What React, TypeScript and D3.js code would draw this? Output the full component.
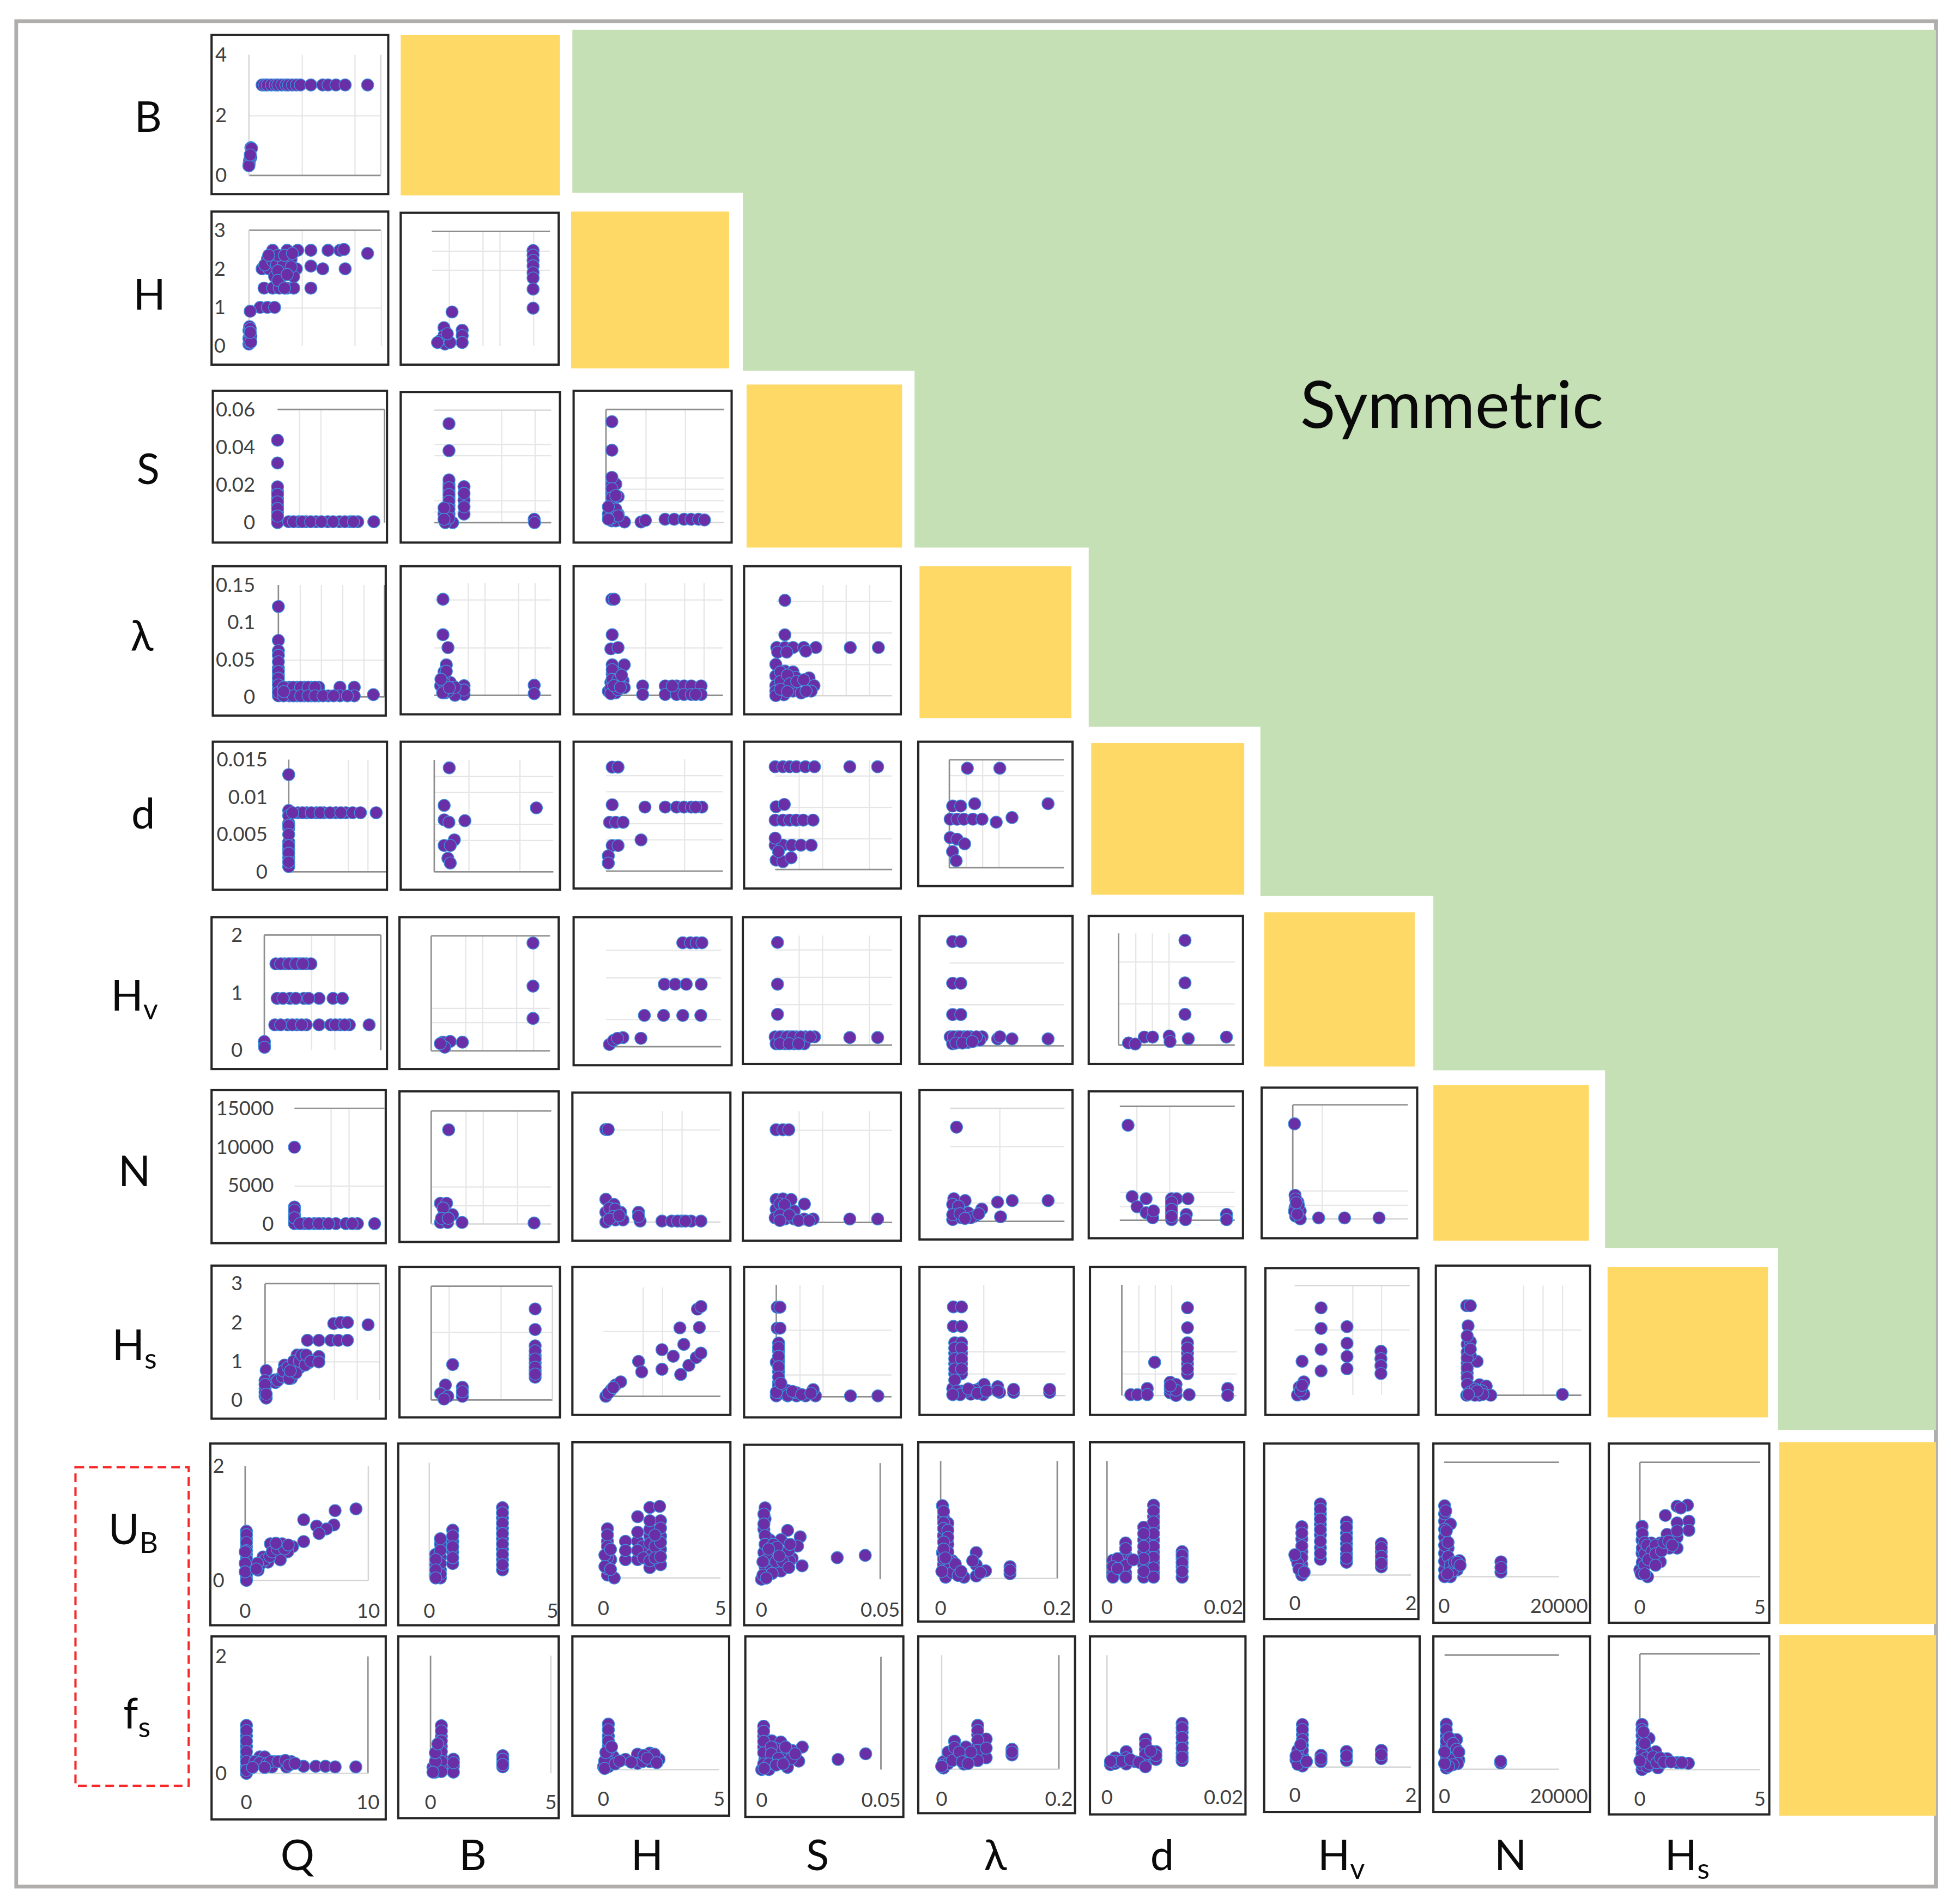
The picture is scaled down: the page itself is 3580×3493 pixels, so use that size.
import { useEffect, useRef } from 'react';
import * as d3 from 'd3';

type Pt = [number, number];

// axis maxima
const rowMaxFirst: Record<string, number> = { B: 4, H: 3, S: 0.06, L: 0.15, d: 0.015, Hv: 2, N: 15000, Hs: 3, UB: 2, fs: 2 };
const rowMaxOther: Record<string, number> = { H: 3, S: 0.05, L: 0.14, d: 0.014, Hv: 1.6, N: 12000, Hs: 2.5, UB: 2, fs: 2 };
const colMaxUpper: Record<string, number> = { Q: 10, B: 3.5, H: 3, S: 0.05, L: 0.14, d: 0.014, Hv: 2, N: 12000 };
const colMaxLower: Record<string, number> = { Q: 10, B: 5, H: 5, S: 0.05, L: 0.2, d: 0.02, Hv: 2, N: 20000, Hs: 5 };

const yTicks: Record<string, number[]> = {
  B: [0, 2, 4], H: [0, 1, 2, 3], S: [0, 0.02, 0.04, 0.06], L: [0, 0.05, 0.1, 0.15], d: [0, 0.005, 0.01, 0.015],
  Hv: [0, 1, 2], N: [0, 5000, 10000, 15000], Hs: [0, 1, 2, 3], UB: [0, 2], fs: [0, 2],
};

// scatter points, [column value, row value]
const B_Q: Pt[] = [[0.15, 0.92], [0.2, 0.9], [0.15, 0.6], [0.05, 0.5], [0.02, 0.4], [0, 0.32], [0.1, 0.68], [1, 3], [1.2, 3], [1.4, 3], [1.7, 3], [2, 3], [2.2, 3], [2.5, 3], [2.8, 3], [3, 3], [3.3, 3], [3.6, 3], [3.9, 3], [4.7, 3], [5.6, 3], [6, 3], [6.6, 3], [7.3, 3], [9, 3]];
const H_Q: Pt[] = [[1.8, 2.48], [2.9, 2.48], [3.7, 2.48], [4.7, 2.48], [6, 2.48], [6.9, 2.48], [7.2, 2.5], [9, 2.4], [1, 2], [1.5, 2], [2.3, 2], [2.9, 2], [3.6, 2], [4.7, 2.07], [5.6, 2], [7.3, 2], [1.4, 2.25], [1.95, 2.25], [2.5, 2.25], [3.2, 2.25], [1.95, 1.8], [2.5, 1.8], [3.4, 1.8], [1.15, 1.5], [1.8, 1.5], [2.3, 1.5], [2.9, 1.5], [3.4, 1.5], [4.7, 1.5], [0.85, 1], [1.4, 1], [1.95, 1], [0.1, 0.9], [0, 0.05], [0.05, 0.1], [0, 0.2], [0.1, 0.3], [0, 0.4], [0.05, 0.5], [0.15, 0.25], [0.1, 0.45], [1.2, 2.1], [1.8, 2.2], [2.1, 2.1], [2.6, 2.1], [3.2, 2.05], [2.2, 1.95], [2.2, 2.35], [2.7, 2.35], [1.5, 2.35], [3.3, 2.4], [2.2, 1.7], [2.9, 1.85], [2.7, 1.5], [0.15, 0.1], [0.1, 0.35]];
const H_B: Pt[] = [[3, 2.5], [3, 2.38], [3, 2.24], [3, 2.1], [3, 1.92], [3, 1.78], [3, 1.49], [3, 0.99], [0.6, 0.89], [0.36, 0.48], [0.9, 0.41], [0.9, 0.27], [0.9, 0.09], [0.36, 0.27], [0.25, 0.14], [0.39, 0.05], [0.54, 0.09], [0.46, 0.32], [0.17, 0.09]];
const S_Q: Pt[] = [[0, 0.0437], [0, 0.0316], [0, 0.0165], [0, 0.0128], [0, 0.0092], [0, 0.0055], [0, 0.0018], [0, 0], [1.05, 0.0005], [1.97, 0.0005], [2.65, 0.0005], [3.6, 0.0005], [4.7, 0.0005], [5.8, 0.0005], [6.8, 0.0005], [7.5, 0.0005], [9, 0.0005], [0, 0.019], [0, 0.015], [0, 0.011], [0, 0.0075], [0, 0.0035], [1.5, 0.0005], [2.3, 0.0005], [3.1, 0.0005], [4.1, 0.0005], [5.2, 0.0005], [6.3, 0.0005], [7.1, 0.0005]];
const S_B: Pt[] = [[0.44, 0.044], [0.44, 0.032], [0.44, 0.017], [0.44, 0.014], [0.44, 0.011], [0.44, 0.0077], [0.44, 0.0038], [0.44, 0.0008], [0.89, 0.016], [0.89, 0.01], [0.89, 0.0038], [0.29, 0.0038], [0.55, 0], [0.33, 0], [2.99, 0.0015], [3, 0], [0.44, 0.019], [0.44, 0.0155], [0.44, 0.0125], [0.44, 0.0095], [0.44, 0.006], [0.44, 0.002], [0.89, 0.013], [0.89, 0.007], [0.29, 0.0065], [0.29, 0.0015]];
const S_H: Pt[] = [[0.15, 0.0446], [0.15, 0.032], [0.15, 0.017], [0.15, 0.013], [0.15, 0.0085], [0.15, 0.0038], [0.15, 0.0008], [0.25, 0.017], [0.31, 0.0115], [0.06, 0.0038], [0.25, 0.0008], [0.47, 0.0003], [0.31, 0.0038], [0.89, 0.0003], [1, 0.001], [1.5, 0.0015], [1.73, 0.0015], [1.98, 0.0015], [2.16, 0.0015], [2.35, 0.0015], [2.5, 0.0012], [0.15, 0.02], [0.15, 0.015], [0.15, 0.011], [0.15, 0.006], [0.15, 0.002], [0.25, 0.012], [0.25, 0.006], [0.31, 0.003], [0.06, 0.0015], [0.06, 0.007]];
const L_Q: Pt[] = [[0, 0.121], [0, 0.0757], [0, 0.0618], [0, 0.0557], [0, 0.0385], [0, 0.029], [0, 0.02], [0, 0.0107], [0, 0.0014], [1.05, 0.013], [1.74, 0.013], [2.43, 0.013], [3.1, 0.013], [3.8, 0.013], [1.05, 0.0014], [1.74, 0.0014], [2.43, 0.0014], [3.1, 0.0014], [3.8, 0.0014], [4.7, 0.0014], [5.8, 0.013], [5.8, 0.0014], [7.15, 0.013], [7.15, 0.0014], [8.95, 0.003], [0, 0.047], [0, 0.034], [0, 0.025], [0, 0.016], [0, 0.006], [0.5, 0.013], [0.5, 0.0014], [1.4, 0.013], [2.1, 0.013], [2.8, 0.013], [3.45, 0.013], [1.4, 0.0014], [2.1, 0.0014], [2.8, 0.0014], [3.45, 0.0014], [4.2, 0.0014], [5.2, 0.0014], [6.5, 0.0014], [0.5, 0.007]];
const L_B: Pt[] = [[0.26, 0.12], [0.26, 0.0757], [0.41, 0.0596], [0.36, 0.038], [0.29, 0.029], [0.29, 0.02], [0.48, 0.016], [0.19, 0.012], [0.89, 0.012], [0.89, 0.001], [0.55, 0.0096], [0.62, 0], [0.33, 0.003], [2.99, 0.0126], [2.99, 0.002], [0.29, 0.024], [0.29, 0.015], [0.36, 0.03], [0.2, 0.02], [0.41, 0.005], [0.89, 0.0065], [0.62, 0.01], [0.25, 0.003], [0.45, 0.0095]];
const L_H: Pt[] = [[0.15, 0.12], [0.21, 0.12], [0.16, 0.0757], [0.125, 0.058], [0.31, 0.0596], [0.47, 0.038], [0.16, 0.038], [0.16, 0.027], [0.31, 0.027], [0.44, 0.018], [0.125, 0.016], [0.31, 0.014], [0.06, 0.005], [0.25, 0.003], [0.47, 0.0096], [0.94, 0.0117], [1.52, 0.0117], [1.81, 0.0117], [2, 0.0117], [2.19, 0.0117], [2.44, 0.0117], [0.94, 0.001], [1.52, 0.001], [1.81, 0.001], [2, 0.001], [2.19, 0.001], [2.44, 0.001], [0.16, 0.032], [0.16, 0.02], [0.31, 0.02], [0.125, 0.009], [0.125, 0.002], [0.31, 0.007], [0.2, 0.012], [0.4, 0.025], [0.37, 0.01], [1.7, 0.0117], [2.3, 0.001]];
const L_S: Pt[] = [[0.0039, 0.1205], [0.0039, 0.0769], [0.0004, 0.0608], [0.0039, 0.0608], [0.0074, 0.0608], [0.012, 0.0608], [0.0172, 0.0608], [0.0129, 0.0562], [0.0008, 0.055], [0.0047, 0.055], [0.032, 0.0608], [0.0441, 0.0608], [0, 0.0395], [0.0039, 0.031], [0.0074, 0.03], [0, 0.025], [0.0039, 0.0207], [0.0086, 0.023], [0.0143, 0.0225], [0.0164, 0.0126], [0, 0.0126], [0, 0.0057], [0.0035, 0.0011], [0.0074, 0.0057], [0.0109, 0.0034], [0.0152, 0.0057], [0, 0], [0.0039, 0.0115], [0.002, 0.03], [0.002, 0.018], [0.005, 0.026], [0.006, 0.015], [0.002, 0.008], [0.005, 0.005], [0.009, 0.018], [0.012, 0.02], [0.013, 0.0057]];
const d_Q: Pt[] = [[0, 0.013], [0, 0.0082], [0, 0.0065], [0, 0.0058], [0, 0.004], [0, 0.003], [0, 0.0019], [0, 0.0007], [0.94, 0.0079], [1.83, 0.0079], [2.82, 0.0079], [3.56, 0.0079], [4.8, 0.0079], [5.8, 0.0079], [6.5, 0.0079], [7.3, 0.0079], [8.9, 0.0079], [0, 0.0075], [0, 0.0062], [0, 0.005], [0, 0.0035], [0, 0.0025], [0, 0.0013], [1.4, 0.0079], [2.3, 0.0079], [3.2, 0.0079], [4.2, 0.0079], [5.3, 0.0079], [0.4, 0.0079]];
const d_B: Pt[] = [[0.44, 0.013], [0.29, 0.0083], [3, 0.008], [0.29, 0.0065], [0.43, 0.0062], [0.9, 0.0064], [0.59, 0.004], [0.29, 0.0033], [0.47, 0.0033], [0.4, 0.0017], [0.47, 0.0011]];
const d_H: Pt[] = [[0.16, 0.013], [0.31, 0.013], [0.16, 0.0083], [1, 0.008], [1.52, 0.008], [1.81, 0.008], [2, 0.008], [2.19, 0.008], [2.46, 0.008], [0.09, 0.0061], [0.25, 0.0061], [0.44, 0.0061], [0.9, 0.0039], [0.16, 0.0032], [0.31, 0.0032], [0.06, 0.0019], [0.06, 0.001], [2.3, 0.008]];
const d_S: Pt[] = [[0, 0.0131], [0.0033, 0.0131], [0.0062, 0.0131], [0.009, 0.0131], [0.0129, 0.0131], [0.0168, 0.0131], [0.0319, 0.0131], [0.0438, 0.0131], [0.0004, 0.008], [0.0039, 0.0083], [0, 0.0063], [0.0033, 0.0063], [0.0062, 0.0063], [0.009, 0.0063], [0.012, 0.0063], [0.0162, 0.0063], [0, 0.0031], [0.0033, 0.0031], [0.0071, 0.0031], [0.011, 0.0031], [0.0154, 0.0031], [0, 0.004], [0.0004, 0.0012], [0.0033, 0.001], [0.0068, 0.0015], [0.0014, 0.0023]];
const d_L: Pt[] = [[0.022, 0.0129], [0.0617, 0.0129], [0.1207, 0.0083], [0.031, 0.0083], [0.004, 0.008], [0.0138, 0.008], [0.001, 0.0063], [0.0094, 0.0063], [0.0176, 0.0063], [0.0287, 0.0063], [0.04, 0.0063], [0.0573, 0.0059], [0.0766, 0.0065], [0.001, 0.0039], [0.0094, 0.0037], [0.0187, 0.0031], [0.0039, 0.0021], [0.0083, 0.0009]];
const Hv_Q: Pt[] = [[1, 1.5], [1.75, 1.5], [2.4, 1.5], [3, 1.5], [3.6, 1.5], [4, 1.5], [1.1, 0.9], [2.2, 0.9], [3.4, 0.9], [4.7, 0.9], [5.9, 0.9], [6.7, 0.9], [0.9, 0.44], [2, 0.44], [2.8, 0.44], [3.6, 0.44], [4.7, 0.44], [5.7, 0.44], [6.5, 0.44], [7.3, 0.44], [9, 0.44], [0, 0.1], [0, 0.15], [0.02, 0.05], [1.4, 1.5], [2.1, 1.5], [2.7, 1.5], [3.3, 1.5], [1.6, 0.9], [2.7, 0.9], [3.8, 0.9], [1.4, 0.44], [2.4, 0.44], [3.2, 0.44], [6.1, 0.44], [6.9, 0.44]];
const Hv_B: Pt[] = [[3, 1.5], [3, 0.9], [3, 0.45], [0.34, 0.12], [0.56, 0.13], [0.92, 0.12], [0.4, 0.05], [0.27, 0.1]];
const Hv_H: Pt[] = [[2, 1.5], [2.2, 1.5], [2.35, 1.5], [2.5, 1.5], [1.52, 0.9], [1.8, 0.9], [2.09, 0.9], [2.48, 0.9], [1, 0.45], [1.5, 0.45], [2, 0.45], [2.47, 0.45], [0.09, 0.03], [0.2, 0.09], [0.44, 0.13], [0.91, 0.12], [0.3, 0.12]];
const Hv_S: Pt[] = [[0.001, 1.5], [0.001, 0.89], [0.001, 0.45], [0, 0.12], [0.0033, 0.12], [0.0062, 0.12], [0.009, 0.12], [0.0129, 0.12], [0.0168, 0.12], [0.0319, 0.11], [0.0438, 0.11], [0.0004, 0.02], [0.0042, 0.02], [0.0081, 0.02], [0.0124, 0.02], [0.002, 0.12], [0.005, 0.12], [0.0075, 0.12], [0.011, 0.12], [0.015, 0.12], [0.002, 0.02], [0.006, 0.02], [0.01, 0.02]];
const Hv_L: Pt[] = [[0.004, 1.5], [0.014, 1.5], [0.004, 0.9], [0.014, 0.9], [0.004, 0.45], [0.014, 0.45], [0.001, 0.13], [0.0094, 0.13], [0.0176, 0.13], [0.026, 0.13], [0.04, 0.13], [0.059, 0.1], [0.0617, 0.13], [0.0766, 0.1], [0.1207, 0.1], [0.004, 0.03], [0.023, 0.05], [0.037, 0.08], [0.005, 0.13], [0.013, 0.13], [0.022, 0.13], [0.033, 0.13], [0.008, 0.04], [0.016, 0.04], [0.028, 0.06]];
const Hv_d: Pt[] = [[0.008, 1.5], [0.008, 0.89], [0.008, 0.44], [0.0084, 0.09], [0.013, 0.115], [0.0031, 0.115], [0.0041, 0.115], [0.0061, 0.13], [0.0062, 0.05], [0.0012, 0.03], [0.002, 0.015]];
const N_Q: Pt[] = [[0, 9950], [0, 2200], [0, 1200], [0, 300], [1.1, 50], [2.2, 50], [3.2, 50], [4.6, 50], [5.7, 50], [7, 50], [8.9, 50], [0, 50], [0, 1800], [0, 800], [0.6, 50], [1.6, 50], [2.7, 50], [3.8, 50], [6.4, 50]];
const N_B: Pt[] = [[0.51, 10000], [0.27, 2200], [0.45, 2200], [0.37, 1000], [0.62, 1000], [0.27, 165], [0.9, 165], [3, 110], [0.48, 165], [0.35, 1700], [0.3, 600], [0.5, 600]];
const N_H: Pt[] = [[0.06, 10000], [0.12, 10000], [0.06, 2460], [0.27, 1900], [0.06, 1060], [0.44, 1060], [0.06, 0], [0.31, 220], [0.5, 220], [0.9, 1060], [0.94, 110], [1.5, 100], [1.75, 100], [2, 100], [2.25, 100], [2.5, 100], [0.15, 1500], [0.3, 1400], [0.25, 600], [0.15, 300], [0.4, 700], [0.9, 600], [1.9, 100], [2.1, 100]];
const N_S: Pt[] = [[0.0004, 10000], [0.0033, 10000], [0.0058, 10000], [0.0004, 2470], [0.0033, 2540], [0.0068, 2470], [0.0125, 1980], [0.0004, 1420], [0.0042, 1230], [0.0081, 1230], [0, 490], [0.0042, 370], [0.0081, 370], [0.0124, 370], [0.0162, 370], [0.0319, 370], [0.0438, 370], [0.002, 2000], [0.004, 1900], [0.002, 800], [0.006, 800], [0.002, 200], [0.01, 200], [0.0145, 200]];
const N_L: Pt[] = [[0.0077, 10000], [0.0044, 2400], [0.0182, 2200], [0.058, 2030], [0.076, 2200], [0.12, 2200], [0.0055, 1300], [0.0386, 1300], [0.022, 900], [0.03, 550], [0.0617, 480], [0.003, 185], [0.0138, 370], [0.025, 370], [0.003, 1800], [0.01, 1600], [0.003, 700], [0.012, 800], [0.018, 300], [0.035, 800]];
const N_d: Pt[] = [[0.001, 10000], [0.0015, 2500], [0.0032, 2270], [0.0021, 1430], [0.0032, 800], [0.004, 260], [0.0041, 990], [0.0063, 2270], [0.0063, 1540], [0.0063, 800], [0.0063, 70], [0.0069, 2270], [0.0083, 2270], [0.0081, 620], [0.008, 70], [0.013, 620], [0.013, 70], [0.0063, 1900], [0.0063, 1150], [0.0063, 400]];
const N_Hv: Pt[] = [[0.03, 10000], [0.04, 2490], [0.09, 1760], [0.04, 1200], [0.13, 840], [0.05, 290], [0.13, 0], [0.45, 110], [0.9, 110], [1.5, 110], [0.05, 2100], [0.1, 1400], [0.03, 800], [0.08, 500], [0.06, 1700]];
const Hs_Q: Pt[] = [[9, 1.94], [6, 1.97], [6.6, 2], [7.2, 2], [3.7, 1.54], [4.7, 1.54], [5.75, 1.54], [6.4, 1.54], [7.2, 1.54], [0.1, 0.76], [0, 0.3], [0, 0.1], [0.1, 0.05], [0, 0.5], [0.85, 0.52], [1.3, 0.56], [1.9, 0.7], [2.3, 0.9], [2.3, 0.56], [2.8, 1.16], [3, 0.83], [3.4, 1.16], [3.8, 0.96], [4.7, 1.12], [1.7, 0.9], [2.55, 0.76], [3.2, 1.03], [0.9, 0.45], [1.1, 0.5], [1.5, 0.6], [1.6, 0.75], [2, 0.85], [2.1, 0.55], [2.5, 1], [2.7, 0.7], [3, 1], [3.2, 1.16], [3.5, 0.9], [3.6, 1.16], [4, 1], [4.7, 0.98], [2.2, 0.75], [0, 0.2], [0, 0.4], [0.1, 0.15]];
const Hs_B: Pt[] = [[3, 2], [3, 1.55], [3, 1.19], [3, 0.98], [3, 0.81], [3, 0.64], [3, 0.5], [0.62, 0.78], [0.41, 0.33], [0.27, 0.14], [0.48, 0.08], [0.9, 0.28], [0.9, 0.08], [0.37, 0.02], [3, 1.08], [3, 0.9], [3, 0.72], [3, 0.57], [0.9, 0.18]];
const Hs_H: Pt[] = [[0.06, 0], [0.19, 0.14], [0.31, 0.26], [0.44, 0.33], [0.9, 0.8], [0.98, 0.56], [1.5, 1.07], [1.5, 0.62], [1.79, 0.92], [2.06, 1.19], [1.98, 0.5], [1.96, 1.57], [2.19, 0.71], [2.38, 0.89], [2.46, 1.58], [2.41, 2], [2.5, 2.06], [2.5, 0.99], [0.12, 0.07], [0.25, 0.2]];
const Hs_S: Pt[] = [[0.0004, 2], [0.0016, 2], [0.0004, 1.53], [0.0016, 1.53], [0.001, 1.2], [0.001, 1.02], [0.001, 0.79], [0.001, 0.56], [0.001, 0.32], [0.001, 0.19], [0, 0.77], [0, 0.02], [0.0049, 0.02], [0.0088, 0.02], [0.0127, 0.02], [0.017, 0.02], [0.016, 0.16], [0.0049, 0.14], [0.0088, 0.09], [0.0322, 0.02], [0.0441, 0.02], [0.001, 1.1], [0.001, 0.9], [0.001, 0.67], [0.001, 0.44], [0.001, 0.25], [0.001, 0.1], [0.003, 0.08], [0.005, 0.03], [0.007, 0.12], [0.011, 0.05], [0.015, 0.08], [0, 0.1], [0.002, 0.3]];
const Hs_L: Pt[] = [[0.0038, 2], [0.0137, 2], [0.0038, 1.56], [0.0137, 1.56], [0.0055, 1.19], [0.0137, 1.19], [0.0055, 0.95], [0.0137, 0.95], [0.0055, 0.72], [0.0137, 0.72], [0.0055, 0.49], [0.0137, 0.49], [0.003, 0.16], [0.014, 0.1], [0.025, 0.03], [0.036, 0.16], [0.04, 0.02], [0.0412, 0.25], [0.0577, 0.2], [0.06, 0.07], [0.077, 0.07], [0.1208, 0.07], [0.0055, 1.07], [0.0137, 1.07], [0.0055, 0.83], [0.0137, 0.83], [0.0055, 0.6], [0.0137, 0.6], [0.0055, 0.35], [0.008, 0.1], [0.02, 0.1], [0.03, 0.12], [0.012, 0.02], [0.022, 0.15], [0.033, 0.05], [0.003, 0.02], [0.044, 0.1], [0.0577, 0.1], [0.077, 0.14], [0.1208, 0.14]];
const Hs_d: Pt[] = [[0.008, 1.98], [0.008, 1.53], [0.008, 1.19], [0.008, 0.95], [0.008, 0.72], [0.008, 0.49], [0.004, 0.75], [0.0011, 0.02], [0.0019, 0.02], [0.0031, 0.16], [0.0031, 0.02], [0.0059, 0.3], [0.0066, 0.25], [0.0059, 0.06], [0.0066, 0], [0.0082, 0.02], [0.0129, 0.16], [0.0129, 0], [0.008, 1.07], [0.008, 0.83], [0.008, 0.6], [0.0059, 0.15], [0.0066, 0.12], [0.0059, 0.22]];
const Hs_Hv: Pt[] = [[0.13, 0.77], [0.16, 0.3], [0.08, 0.18], [0.05, 0], [0.16, 0.02], [0.46, 1.99], [0.46, 1.52], [0.46, 1.04], [0.46, 0.55], [0.91, 1.56], [0.91, 1.18], [0.91, 0.88], [0.91, 0.6], [1.5, 1], [1.5, 0.83], [1.5, 0.67], [1.5, 0.49], [0.1, 0.1], [0.13, 0.22]];
const Hs_N: Pt[] = [[230, 2.04], [600, 2.04], [370, 1.58], [280, 1.16], [280, 0.98], [280, 0.73], [280, 0.51], [1300, 0.77], [600, 1.22], [600, 0.91], [230, 0], [840, 0.18], [1530, 0.24], [1530, 0], [2230, 0.21], [2700, 0], [1070, 0], [10050, 0.02], [280, 1.35], [280, 0.85], [280, 0.62], [280, 0.4], [300, 0.25], [600, 0.08], [1100, 0.14], [1800, 0.1], [1900, 0.02], [600, 1.05], [1300, 0.1], [400, 0.02]];
const UB_Q: Pt[] = [[9, 1.25], [7.3, 1.22], [4.75, 1.06], [5.8, 0.95], [7.2, 0.97], [6.6, 0.9], [6, 0.82], [4.75, 0.68], [3.85, 0.59], [3, 0.64], [2.05, 0.64], [3.45, 0.5], [2.45, 0.45], [1.45, 0.41], [1.05, 0.18], [1.85, 0.32], [2.85, 0.36], [0.1, 0.86], [0.1, 0.73], [0.1, 0.59], [0.1, 0.45], [0.1, 0.32], [0.1, 0.18], [0.1, 0.05], [0.1, 0.8], [0.1, 0.66], [0.1, 0.52], [0.1, 0.38], [0.1, 0.25], [0.1, 0.11], [0.1, 0], [0, 0.5], [0, 0.3], [0, 0.15], [1.3, 0.3], [1.6, 0.36], [2, 0.42], [2.2, 0.5], [2.6, 0.55], [3.2, 0.55], [3.5, 0.62], [2.5, 0.65], [1, 0.3], [0.9, 0.2]];
const UB_B: Pt[] = [[2.97, 1.22], [2.97, 1.04], [2.97, 0.86], [2.97, 0.68], [2.97, 0.5], [2.97, 0.32], [2.97, 0.14], [0.95, 0.83], [0.95, 0.63], [0.95, 0.45], [0.95, 0.25], [0.45, 0.59], [0.45, 0.36], [0.45, 0.14], [0.45, 0], [0.26, 0.41], [0.26, 0.23], [0.26, 0.05], [2.97, 1.13], [2.97, 0.95], [2.97, 0.77], [2.97, 0.59], [2.97, 0.41], [2.97, 0.23], [0.95, 0.73], [0.95, 0.54], [0.95, 0.35], [0.45, 0.48], [0.45, 0.25], [0.45, 0.07], [0.45, 0.68], [0.26, 0.32], [0.26, 0.14], [0.26, 0]];
const UB_H: Pt[] = [[0.17, 0.86], [0.17, 0.64], [0.17, 0.45], [0.17, 0.27], [0.17, 0.05], [0.46, 0], [0.31, 0.32], [0.94, 0.64], [0.94, 0.32], [1.46, 1.07], [1.46, 0.64], [1.46, 0.32], [1.98, 1.23], [2.4, 1.25], [1.98, 0.73], [1.98, 0.45], [1.98, 0.18], [2.44, 1], [2.44, 0.73], [2.44, 0.5], [2.44, 0.23], [1.67, 0.55], [0.17, 0.75], [0.17, 0.55], [0.17, 0.36], [0.17, 0.16], [0.06, 0.4], [0.06, 0.2], [0.3, 0.15], [0.3, 0.5], [0.94, 0.48], [1.46, 0.48], [1.46, 0.8], [1.7, 0.35], [1.98, 0.85], [1.98, 0.6], [1.98, 0.3], [2.2, 0.55], [2.2, 0.35], [2.44, 0.87], [2.44, 0.62], [2.44, 0.37], [1.98, 1], [2.2, 0.75]];
const UB_S: Pt[] = [[0.0015, 1.23], [0.0015, 1.04], [0.001, 0.86], [0.011, 0.84], [0.0163, 0.73], [0.0152, 0.57], [0.0171, 0.23], [0.0319, 0.37], [0.0437, 0.41], [0.0034, 0.68], [0.0082, 0.68], [0.001, 0.46], [0.0053, 0.43], [0.0091, 0.46], [0.0129, 0.36], [0, 0], [0.0015, 0.21], [0.0044, 0.18], [0.0082, 0.14], [0.0006, 0.07], [0.0119, 0.32], [0.001, 1.12], [0.001, 0.95], [0.0015, 0.75], [0.0015, 0.6], [0.005, 0.6], [0.0065, 0.55], [0.0025, 0.35], [0.006, 0.3], [0.009, 0.3], [0.0115, 0.5], [0.0115, 0.2], [0.003, 0.52], [0.0045, 0.1], [0.012, 0.6], [0.0075, 0.4], [0.002, 0.02], [0.0006, 0.3]];
const UB_L: Pt[] = [[0.003, 1.24], [0.0047, 1.04], [0.0124, 0.94], [0.0047, 0.73], [0.0124, 0.58], [0.003, 0.44], [0.02, 0.3], [0.0047, 0.23], [0.0085, 0.02], [0.028, 0.16], [0.04, 0.02], [0.061, 0.44], [0.061, 0.23], [0.061, 0.04], [0.077, 0.13], [0.119, 0.2], [0.119, 0.08], [0.005, 1.14], [0.005, 0.95], [0.005, 0.85], [0.0124, 0.82], [0.0124, 0.7], [0.005, 0.62], [0.0124, 0.45], [0.005, 0.5], [0.005, 0.33], [0.015, 0.3], [0.012, 0.15], [0.02, 0.1], [0.025, 0.25], [0.002, 0.12], [0.03, 0.05], [0.008, 0.35], [0.035, 0.12], [0.055, 0.3], [0.068, 0.1], [0.119, 0.14]];
const UB_d: Pt[] = [[0.008, 1.24], [0.008, 1.04], [0.008, 0.86], [0.008, 0.64], [0.008, 0.43], [0.008, 0.25], [0.008, 0.07], [0.0063, 0.86], [0.0063, 0.64], [0.0063, 0.43], [0.0063, 0.21], [0.0063, 0], [0.0032, 0.59], [0.0032, 0.39], [0.0032, 0.07], [0.001, 0.29], [0.001, 0.07], [0.0018, 0.32], [0.0041, 0.3], [0.0129, 0.44], [0.0129, 0.32], [0.0129, 0.18], [0.0129, 0], [0.008, 1.14], [0.008, 0.95], [0.008, 0.75], [0.008, 0.53], [0.008, 0.34], [0.008, 0.16], [0.008, 0], [0.0063, 0.75], [0.0063, 0.53], [0.0063, 0.32], [0.0063, 0.1], [0.0032, 0.49], [0.0032, 0.2], [0.0032, 0], [0.001, 0.18], [0.001, 0], [0.0129, 0.38], [0.0129, 0.25], [0.0129, 0.1], [0.0018, 0.15], [0.0045, 0.3]];
const UB_Hv: Pt[] = [[0.44, 1.22], [0.44, 1.05], [0.44, 0.87], [0.44, 0.69], [0.44, 0.47], [0.44, 0.27], [0.89, 0.91], [0.89, 0.72], [0.89, 0.54], [0.89, 0.36], [0.89, 0.22], [1.49, 0.54], [1.49, 0.4], [1.49, 0.25], [1.49, 0.14], [0.12, 0.83], [0.12, 0.62], [0.12, 0.4], [0.12, 0.18], [0.12, 0], [0.02, 0.29], [0.44, 1.13], [0.44, 0.96], [0.44, 0.78], [0.44, 0.58], [0.44, 0.37], [0.89, 0.82], [0.89, 0.63], [0.89, 0.45], [0.89, 0.29], [1.49, 0.47], [1.49, 0.32], [1.49, 0.2], [0.12, 0.72], [0.12, 0.5], [0.12, 0.3], [0.12, 0.09], [0.05, 0.2], [0, 0.35], [0.07, 0.1], [0.16, 0.05]];
const UB_N: Pt[] = [[100, 1.24], [100, 0.97], [100, 0.69], [100, 0.41], [100, 0.12], [1100, 0.92], [700, 0.5], [2680, 0.28], [2280, 0.12], [1100, 0], [9900, 0.26], [9900, 0.08], [100, 1.1], [100, 0.83], [100, 0.55], [100, 0.27], [100, 0], [300, 1.15], [400, 0.8], [700, 0.6], [700, 0.35], [1100, 0.2], [1500, 0.1], [1800, 0.25], [2280, 0.25], [2800, 0.2], [600, 0.05], [9900, 0.16]];
const UB_Hs: Pt[] = [[1.98, 1.25], [1.55, 1.23], [1.06, 1.07], [2.04, 0.97], [2.04, 0.81], [1.55, 0.94], [1.55, 0.69], [1.55, 0.5], [1.13, 0.74], [0.85, 0.59], [0.47, 0.59], [0.09, 0.88], [0.09, 0.64], [0.09, 0.41], [0, 0.12], [0.32, 0], [0.85, 0.26], [0.47, 0.31], [1.23, 0.5], [0.1, 0.75], [0.1, 0.5], [0.1, 0.25], [0.05, 0.05], [0.2, 0.6], [0.2, 0.4], [0.2, 0.2], [0.3, 0.55], [0.5, 0.45], [0.35, 0.3], [0.65, 0.55], [0.65, 0.4], [0.65, 0.2], [0.9, 0.45], [1, 0.6], [1.2, 0.62], [1.35, 0.55], [1.7, 1.2], [1.55, 0.8], [0.2, 0.05]];
const fs_Q: Pt[] = [[0, 0.82], [0, 0.64], [0, 0.46], [0, 0.28], [0, 0.11], [0, 0], [1.1, 0.28], [1.5, 0.28], [1.3, 0.15], [2.3, 0.2], [2.9, 0.2], [3.7, 0.2], [4.7, 0.12], [5.7, 0.12], [6.5, 0.12], [7.3, 0.11], [9, 0.11], [2.1, 0.11], [3.3, 0.11], [0, 0.73], [0, 0.55], [0, 0.37], [0, 0.2], [0, 0.05], [0.7, 0.2], [1.1, 0.18], [1.7, 0.17], [2, 0.2], [2.6, 0.2], [3.2, 0.22], [3.5, 0.14], [4, 0.17], [1.5, 0.1], [0.5, 0.1]];
const fs_B: Pt[] = [[0.45, 0.81], [0.45, 0.63], [0.45, 0.46], [0.45, 0.28], [0.45, 0.11], [0.1, 0.1], [0.2, 0.02], [0.95, 0.24], [0.95, 0.12], [0.95, 0.02], [3, 0.3], [3, 0.19], [3, 0.11], [0.45, 0.72], [0.45, 0.55], [0.45, 0.37], [0.45, 0.2], [0.45, 0.03], [0.2, 0.2], [0.2, 0.35], [0.1, 0.02], [0.95, 0.18], [3, 0.24], [3, 0.15], [0.3, 0.5]];
const fs_H: Pt[] = [[0.21, 0.8], [0.21, 0.59], [0.21, 0.41], [0.21, 0.23], [0.21, 0.05], [0, 0.05], [0.42, 0.23], [0.95, 0.18], [1.47, 0.27], [1.47, 0.11], [2, 0.29], [2, 0.14], [2.4, 0.18], [2.2, 0.27], [1.68, 0.14], [0.21, 0.7], [0.21, 0.5], [0.21, 0.32], [0.21, 0.14], [0.05, 0.15], [0.1, 0.3], [0.05, 0.02], [0.5, 0.1], [0.7, 0.15], [1.2, 0.13], [1.75, 0.25], [1.9, 0.2], [2.3, 0.12], [0.35, 0.4]];
const fs_S: Pt[] = [[0.0008, 0.77], [0.0008, 0.59], [0.0008, 0.4], [0, 0], [0.0042, 0.51], [0.008, 0.49], [0.0089, 0.29], [0.017, 0.4], [0.0127, 0.34], [0.0155, 0.15], [0.0108, 0.04], [0.003, 0], [0.0051, 0.18], [0.032, 0.18], [0.0436, 0.28], [0.0013, 0.18], [0.006, 0.37], [0.0008, 0.68], [0.0008, 0.5], [0.0008, 0.3], [0.0008, 0.1], [0.004, 0.4], [0.004, 0.28], [0.007, 0.2], [0.01, 0.4], [0.0125, 0.2], [0.003, 0.1], [0.006, 0.08], [0.009, 0.1], [0.014, 0.28], [0.001, 0.02]];
const fs_L: Pt[] = [[0.0615, 0.77], [0.0615, 0.6], [0.0615, 0.42], [0.0615, 0.24], [0.022, 0.49], [0.0415, 0.39], [0.076, 0.53], [0.076, 0.2], [0.12, 0.35], [0.12, 0.25], [0.003, 0.02], [0.011, 0.2], [0.022, 0.28], [0.038, 0.09], [0.003, 0.13], [0.03, 0.2], [0.045, 0.2], [0.0615, 0.68], [0.0615, 0.51], [0.0615, 0.33], [0.0615, 0.15], [0.003, 0.08], [0.011, 0.1], [0.011, 0.3], [0.018, 0.15], [0.022, 0.38], [0.03, 0.3], [0.035, 0.13], [0.05, 0.3], [0.076, 0.37], [0.12, 0.3], [0, 0.05], [0.045, 0.1]];
const fs_d: Pt[] = [[0.0129, 0.79], [0.0129, 0.63], [0.0129, 0.44], [0.0129, 0.26], [0.0129, 0.13], [0.0066, 0.51], [0.0066, 0.33], [0.0066, 0.15], [0.0084, 0.29], [0.0084, 0.15], [0.0033, 0.29], [0.0033, 0.07], [0.0014, 0.18], [0.0006, 0.06], [0.0049, 0.11], [0.0129, 0.71], [0.0129, 0.54], [0.0129, 0.35], [0.0129, 0.19], [0.0066, 0.42], [0.0066, 0.24], [0.0066, 0.05], [0.0084, 0.22], [0.0075, 0.3], [0.0033, 0.18], [0.0014, 0.08], [0.0014, 0.12], [0.0025, 0.12], [0.004, 0.15], [0.0055, 0.1], [0.0006, 0.12], [0.0066, 0.02]];
const fs_Hv: Pt[] = [[0.13, 0.76], [0.13, 0.58], [0.13, 0.39], [0.13, 0.21], [0.13, 0.02], [0.02, 0.13], [0.45, 0.21], [0.45, 0.1], [0.89, 0.28], [0.89, 0.12], [1.49, 0.3], [1.49, 0.15], [0.13, 0.67], [0.13, 0.49], [0.13, 0.3], [0.13, 0.12], [0.05, 0.3], [0.05, 0.05], [0.2, 0.1], [0.45, 0.15], [0.89, 0.2], [1.49, 0.22], [0.1, 0.4], [0.02, 0.2]];
const fs_N: Pt[] = [[300, 0.79], [300, 0.58], [300, 0.4], [300, 0.21], [300, 0.02], [2100, 0.52], [2500, 0.16], [1700, 0.3], [950, 0.16], [9800, 0.11], [9800, 0.14], [300, 0.69], [300, 0.49], [300, 0.3], [300, 0.11], [800, 0.55], [1000, 0.35], [1200, 0.25], [1500, 0.45], [2100, 0.35], [2500, 0.3], [2300, 0.1], [1500, 0.08], [700, 0.05], [0, 0.1], [0, 0.3]];
const fs_Hs: Pt[] = [[0.09, 0.78], [0.09, 0.59], [0.09, 0.36], [0.09, 0.17], [0.09, 0], [0.38, 0.54], [0.66, 0.31], [0.75, 0.03], [0.47, 0.17], [1.13, 0.19], [1.55, 0.12], [2.02, 0.11], [0.28, 0.31], [0.94, 0.12], [0.09, 0.69], [0.09, 0.47], [0.09, 0.26], [0.09, 0.08], [0.2, 0.45], [0.25, 0.2], [0.3, 0.05], [0.4, 0.1], [0.55, 0.22], [0.7, 0.12], [0.85, 0.2], [1, 0.13], [1.3, 0.13], [1.75, 0.12], [0, 0.15], [0.15, 0.65]];

type Box = [number, number, number, number];
// row, col, points, frame (x0,y0,x1,y1), plot (x at 0, y at 0, x at max, y at max),
// edges (lower case = dark, upper case = light), x grid, y grid
type Panel = [string, string, Pt[], Box, Box, string, number[], number[]];

const panels: Panel[] = [
  ['B', 'Q', B_Q, [170, 28, 312, 156], [200, 141, 306, 44], 'bLR', [4, 8], [2]],
  ['H', 'Q', H_Q, [170, 170, 312, 293], [200, 278, 306, 185], 'tL', [4, 8, 10], [1]],
  ['H', 'B', H_B, [322, 171, 449, 293], [347, 278, 442, 186], 't', [0.5, 1.5, 2, 3], [2, 2.5]],
  ['S', 'Q', S_Q, [171, 314, 311, 436], [223, 420, 309, 329], 'tr', [2, 4], []],
  ['S', 'B', S_B, [322, 315, 450, 436], [349, 420, 443, 329.6], 'bT', [2, 3], [0.035, 0.03, 0.01, 0.005]],
  ['S', 'H', S_H, [461, 314, 588, 436], [487, 420, 582, 329], 'ltB', [1, 2], [0.02, 0.015, 0.01, 0.005]],
  ['L', 'Q', L_Q, [171, 455, 310, 575], [223.7, 560, 309, 470], 'lrb', [2, 4, 6, 8], [0.05]],
  ['L', 'B', L_B, [322, 455, 450, 574], [349, 558.7, 443, 468.7], 'b', [1, 1.5, 2.5, 3], [0.12, 0.06]],
  ['L', 'H', L_H, [461, 455, 588, 574], [487, 558.7, 581, 468.7], 'b', [1, 2, 2.5], [0.12, 0.06]],
  ['L', 'S', L_S, [598, 455, 724, 574], [623.5, 559, 717, 470], 'B', [0.02, 0.03, 0.04], [0.12, 0.08, 0.04]],
  ['d', 'Q', d_Q, [171, 596, 311, 715], [232, 700.6, 311, 610.4], 'lb', [6, 8], []],
  ['d', 'B', d_B, [322, 596, 450, 715], [349, 700.6, 444.7, 610.6], 'lb', [1, 2.5], [0.012, 0.01, 0.006, 0.004]],
  ['d', 'H', d_H, [461, 596, 588, 714], [487, 700, 581, 610], 'b', [2], [0.012, 0.01, 0.006, 0.004]],
  ['d', 'S', d_S, [598, 596, 724, 714], [623, 698.7, 717, 610.5], 'b', [0.01, 0.02, 0.04], [0.012, 0.008, 0.004]],
  ['d', 'L', d_L, [738, 596, 862, 712], [763, 697.3, 855, 610.5], 'ltb', [0.02, 0.04, 0.06], [0.012, 0.01]],
  ['Hv', 'Q', Hv_Q, [170, 737, 311, 859], [212.4, 843.9, 306, 751.4], 'ltr', [4, 6], []],
  ['Hv', 'B', Hv_B, [321, 737, 449, 859], [346.5, 844.4, 442, 752], 'ltb', [1, 1.5, 2.5, 3], [0.6, 0.4]],
  ['Hv', 'H', Hv_H, [461, 737, 588, 856], [487, 841, 579.6, 752], 'b', [], [1.4, 1, 0.4]],
  ['Hv', 'S', Hv_S, [597, 737, 724, 855], [623, 839.8, 717, 751.8], 'b', [0.01, 0.02, 0.04], [1.4, 1, 0.6]],
  ['Hv', 'L', Hv_L, [739, 736, 862, 855], [763, 840.4, 855, 751], 'b', [], [1.2, 0.6]],
  ['Hv', 'd', Hv_d, [875, 736, 999, 855], [899, 839.8, 992.4, 750], 'lb', [0.002, 0.004, 0.006], [1.2, 0.6]],
  ['N', 'Q', N_Q, [170, 876, 310, 999], [236.6, 983.6, 309, 890.6], 't', [4, 6], [5000]],
  ['N', 'B', N_B, [321, 877, 449, 998], [346.5, 983.6, 443, 892.7], 'ltB', [1, 1.5, 2.5], [4000, 2000]],
  ['N', 'H', N_H, [460, 878, 587, 997], [485, 982, 579, 892.7], 'B', [1.5, 2], [10000]],
  ['N', 'S', N_S, [597, 878, 724, 997], [623, 982.3, 717, 892.9], 'b', [0.01, 0.02, 0.04], [10000]],
  ['N', 'L', N_L, [739, 876, 862, 996], [763.7, 981.4, 855.5, 890.6], 'bT', [0.06], [8000, 2000]],
  ['N', 'd', N_d, [875, 877, 999, 995], [900, 980.6, 992.4, 889], 'tb', [0.002, 0.006], [3000, 1500]],
  ['N', 'Hv', N_Hv, [1014, 874, 1139, 995], [1039, 979.5, 1131.5, 887.8], 'ltB', [0.5], [3000, 1500]],
  ['Hs', 'Q', Hs_Q, [170, 1017, 310, 1140], [213, 1125, 305, 1031.5], 'ltR', [6, 8], [1]],
  ['Hs', 'B', Hs_B, [321, 1018, 450, 1139], [346.5, 1125, 444, 1033.6], 'lbtR', [0.5, 2], [1.5]],
  ['Hs', 'H', Hs_H, [460, 1018, 587, 1137], [485, 1122, 579, 1034.5], 'b', [1, 1.5], [1.5]],
  ['Hs', 'S', Hs_S, [598, 1018, 724, 1139], [623.9, 1122.4, 716.5, 1032.4], 'lb', [0.01, 0.02], [1.5, 0.5]],
  ['Hs', 'L', Hs_L, [739, 1018, 863, 1137], [763.7, 1121.4, 856.3, 1032.4], 'B', [0.04], [1, 0.5]],
  ['Hs', 'd', Hs_d, [876, 1018, 1001, 1137], [901.6, 1121.4, 994, 1032.4], 'lB', [0.002, 0.004, 0.006], [1, 0.5]],
  ['Hs', 'Hv', Hs_Hv, [1017, 1019, 1140, 1137], [1040.5, 1121, 1133, 1033], 'T', [1, 1.5], [1.5]],
  ['Hs', 'N', Hs_N, [1154, 1017, 1278, 1137], [1177, 1121.2, 1271, 1033], 'b', [6000, 8000, 10000], [1.5]],
  ['UB', 'Q', UB_Q, [169, 1160, 310, 1306], [197, 1270, 296, 1178], 'lRB', [], []],
  ['UB', 'B', UB_B, [320, 1160, 449, 1306], [345, 1268, 444, 1175.4], 'L', [], []],
  ['UB', 'H', UB_H, [460, 1159, 587, 1306], [485, 1268, 579, 1176], 'B', [], []],
  ['UB', 'S', UB_S, [598, 1161, 725, 1306], [612, 1269, 707.4, 1175.7], 'r', [], []],
  ['UB', 'L', UB_L, [738, 1159, 863, 1303], [756, 1268.4, 849.7, 1174], 'lrB', [], []],
  ['UB', 'd', UB_d, [876, 1159, 1000, 1303], [889.7, 1267.4, 983.3, 1174], 'l', [], []],
  ['UB', 'Hv', UB_Hv, [1016, 1160, 1140, 1301], [1040.7, 1265.7, 1134, 1172], 'B', [], []],
  ['UB', 'N', UB_N, [1152, 1160, 1278, 1304], [1160.6, 1267, 1253, 1175], 'tB', [], []],
  ['UB', 'Hs', UB_Hs, [1293, 1160, 1422, 1304], [1318, 1267, 1414.5, 1175], 'ltB', [], []],
  ['fs', 'Q', fs_Q, [170, 1315, 310, 1462], [198, 1425, 295.7, 1331], 'rB', [], []],
  ['fs', 'B', fs_B, [320, 1315, 449, 1461], [346, 1425, 442.7, 1330.5], 'lR', [], []],
  ['fs', 'H', fs_H, [460, 1315, 586, 1459], [485, 1422, 578, 1330.5], 'B', [], []],
  ['fs', 'S', fs_S, [599, 1315, 726, 1460], [612.2, 1422, 708, 1331.4], 'r', [], []],
  ['fs', 'L', fs_L, [738, 1315, 864, 1457], [756.8, 1421.7, 851, 1330], 'LrB', [], []],
  ['fs', 'd', fs_d, [876, 1315, 1001, 1458], [889.7, 1420.7, 983.3, 1330], 'L', [], []],
  ['fs', 'Hv', fs_Hv, [1016, 1315, 1141, 1456], [1040.7, 1420, 1134, 1330], 'B', [], []],
  ['fs', 'N', fs_N, [1152, 1315, 1278, 1456], [1161, 1421.7, 1253, 1330], 'tB', [], []],
  ['fs', 'Hs', fs_Hs, [1293, 1315, 1422, 1458], [1318, 1422, 1414.5, 1329], 'ltB', [], []],
];

const diagonal: Box[] = [
  [322, 28, 450, 157], [459, 170, 586, 296], [600, 309, 725, 440], [739, 455, 861, 577], [877, 597, 1000, 719],
  [1016, 733, 1137, 857], [1152, 872, 1277, 997], [1292, 1018, 1421, 1139], [1430, 1159, 1556, 1305], [1430, 1314, 1556, 1459],
];

const staircase: [number, number][] = [
  [460, 24], [1556, 24], [1556, 1149], [1429, 1149], [1429, 1003], [1290, 1003], [1290, 860], [1152, 860], [1152, 720],
  [1013, 720], [1013, 584], [875, 584], [875, 440], [735, 440], [735, 298], [597, 298], [597, 155], [460, 155],
];

// name, subscript, x, baseline
const rowLabels: [string, string, number, number][] = [
  ['B', '', 119, 106], ['H', '', 120, 249], ['S', '', 119, 389], ['λ', '', 114, 523], ['d', '', 115, 666],
  ['H', 'v', 108, 812], ['N', '', 108, 953], ['H', 's', 108, 1093], ['U', 'B', 107, 1241], ['f', 's', 110, 1389],
];
const colLabels: [string, string, number][] = [
  ['Q', '', 239], ['B', '', 380], ['H', '', 520], ['S', '', 657], ['λ', '', 800], ['d', '', 934], ['H', 'v', 1078], ['N', '', 1214], ['H', 's', 1356],
];

// y tick label column per row: x, anchor
const yTickPos: Record<string, [number, string]> = {
  B: [173, 'start'], H: [172, 'start'], S: [205, 'end'], L: [205, 'end'], d: [215, 'end'], Hv: [195, 'end'], N: [220, 'end'], Hs: [195, 'end'], UB: [171, 'start'], fs: [173, 'start'],
};
// x tick label baseline per lower row and column
const xTickY: Record<string, Record<string, number>> = {
  UB: { Q: 1300, B: 1300, H: 1298, S: 1299, L: 1298, d: 1297, Hv: 1294, N: 1296, Hs: 1297 },
  fs: { Q: 1454, B: 1454, H: 1451, S: 1452, L: 1451, d: 1450, Hv: 1448, N: 1449, Hs: 1451 },
};

const FONT = 'Lato, "Open Sans", sans-serif';

export default function App() {
  const ref = useRef<HTMLDivElement>(null);
  useEffect(() => {
    const svg = d3.create('svg')
      .attr('width', 3580)
      .attr('height', 3493)
      .attr('viewBox', [0, 0, 1568, 1530])
      .attr('style', 'position:absolute;left:0;top:0;background:#fff')
      .attr('font-family', FONT);

    svg.append('rect')
      .attr('x', 13).attr('y', 17).attr('width', 1543).attr('height', 1499)
      .attr('fill', '#fff').attr('stroke', '#b0adad').attr('stroke-width', 3);

    svg.append('path')
      .attr('d', d3.line()(staircase) + 'Z')
      .attr('fill', '#c5e0b4');

    svg.append('g').attr('fill', '#ffd966')
      .selectAll('rect').data(diagonal).join('rect')
      .attr('x', (d) => d[0]).attr('y', (d) => d[1])
      .attr('width', (d) => d[2] - d[0]).attr('height', (d) => d[3] - d[1]);

    svg.append('text')
      .attr('x', 1045).attr('y', 344)
      .attr('font-size', 52.5).attr('fill', '#0a0a0a')
      .text('Symmetric');

    svg.append('rect')
      .attr('x', 60.6).attr('y', 1179).attr('width', 91).attr('height', 256)
      .attr('fill', 'none').attr('stroke', '#f5282a').attr('stroke-width', 1.8).attr('stroke-dasharray', '7 4');

    const labels = svg.append('g').attr('font-size', 34).attr('fill', '#0a0a0a').attr('text-anchor', 'middle');
    const addLabel = (name: string, sub: string, x: number, y: number) => {
      const t = labels.append('text').attr('x', x).attr('y', y).text(name);
      if (sub) t.append('tspan').attr('font-size', 23).attr('dy', 7).text(sub);
    };
    rowLabels.forEach(([n, s, x, y]) => addLabel(n, s, x, y));
    colLabels.forEach(([n, s, x]) => addLabel(n, s, x, 1503));

    panels.forEach(([row, col, pts, frame, plot, edges, gx, gy]) => {
      const lower = row === 'UB' || row === 'fs';
      const first = col === 'Q';
      const xMax = (lower ? colMaxLower : colMaxUpper)[col];
      const yMax = (first ? rowMaxFirst : rowMaxOther)[row];
      const x = d3.scaleLinear().domain([0, xMax]).range([plot[0], plot[2]]);
      const y = d3.scaleLinear().domain([0, yMax]).range([plot[1], plot[3]]);

      const g = svg.append('g');

      g.append('g')
        .attr('transform', `translate(0,${plot[1]})`)
        .call(d3.axisBottom(x).tickValues(gx).tickSize(plot[3] - plot[1]).tickFormat(() => ''))
        .call((a) => a.select('.domain').remove())
        .call((a) => a.selectAll('line').attr('stroke', '#e6e6e6').attr('stroke-width', 1));
      g.append('g')
        .attr('transform', `translate(${plot[0]},0)`)
        .call(d3.axisLeft(y).tickValues(gy).tickSize(plot[0] - plot[2]).tickFormat(() => ''))
        .call((a) => a.select('.domain').remove())
        .call((a) => a.selectAll('line').attr('stroke', '#e6e6e6').attr('stroke-width', 1));

      const edgeLine: Record<string, Box> = {
        l: [plot[0], plot[1], plot[0], plot[3]],
        r: [plot[2], plot[1], plot[2], plot[3]],
        t: [plot[0], plot[3], plot[2], plot[3]],
        b: [plot[0], plot[1], plot[2], plot[1]],
      };
      Array.from(edges).forEach((e) => {
        const dark = e === e.toLowerCase();
        const [x1, y1, x2, y2] = edgeLine[e.toLowerCase()];
        g.append('line')
          .attr('x1', x1).attr('y1', y1).attr('x2', x2).attr('y2', y2)
          .attr('stroke', dark ? '#8e8e8e' : '#d6d6d6').attr('stroke-width', dark ? 1.2 : 1.1);
      });

      g.append('rect')
        .attr('x', frame[0]).attr('y', frame[1])
        .attr('width', frame[2] - frame[0]).attr('height', frame[3] - frame[1])
        .attr('fill', 'none').attr('stroke', '#262626').attr('stroke-width', 1.8);

      g.append('g')
        .attr('fill', '#6a2ea6').attr('stroke', '#3d8fdc').attr('stroke-width', 0.6)
        .selectAll('circle').data(pts).join('circle')
        .attr('cx', (d) => x(d[0])).attr('cy', (d) => y(d[1])).attr('r', 4.9);

      if (first) {
        const [tx, anchor] = yTickPos[row];
        g.append('g').attr('font-size', 16).attr('fill', '#404040').attr('text-anchor', anchor)
          .selectAll('text').data(yTicks[row]).join('text')
          .attr('x', tx).attr('y', (d) => y(d) + 5.5)
          .text((d) => String(d));
      }
      if (lower) {
        g.append('g').attr('font-size', 16).attr('fill', '#404040').attr('text-anchor', 'middle')
          .selectAll('text').data([0, xMax]).join('text')
          .attr('x', (d) => x(d)).attr('y', xTickY[row][col])
          .text((d) => String(d));
      }
    });

    const node = svg.node()!;
    ref.current?.append(node);
    return () => {
      node.remove();
    };
  }, []);
  return <div ref={ref} />;
}
